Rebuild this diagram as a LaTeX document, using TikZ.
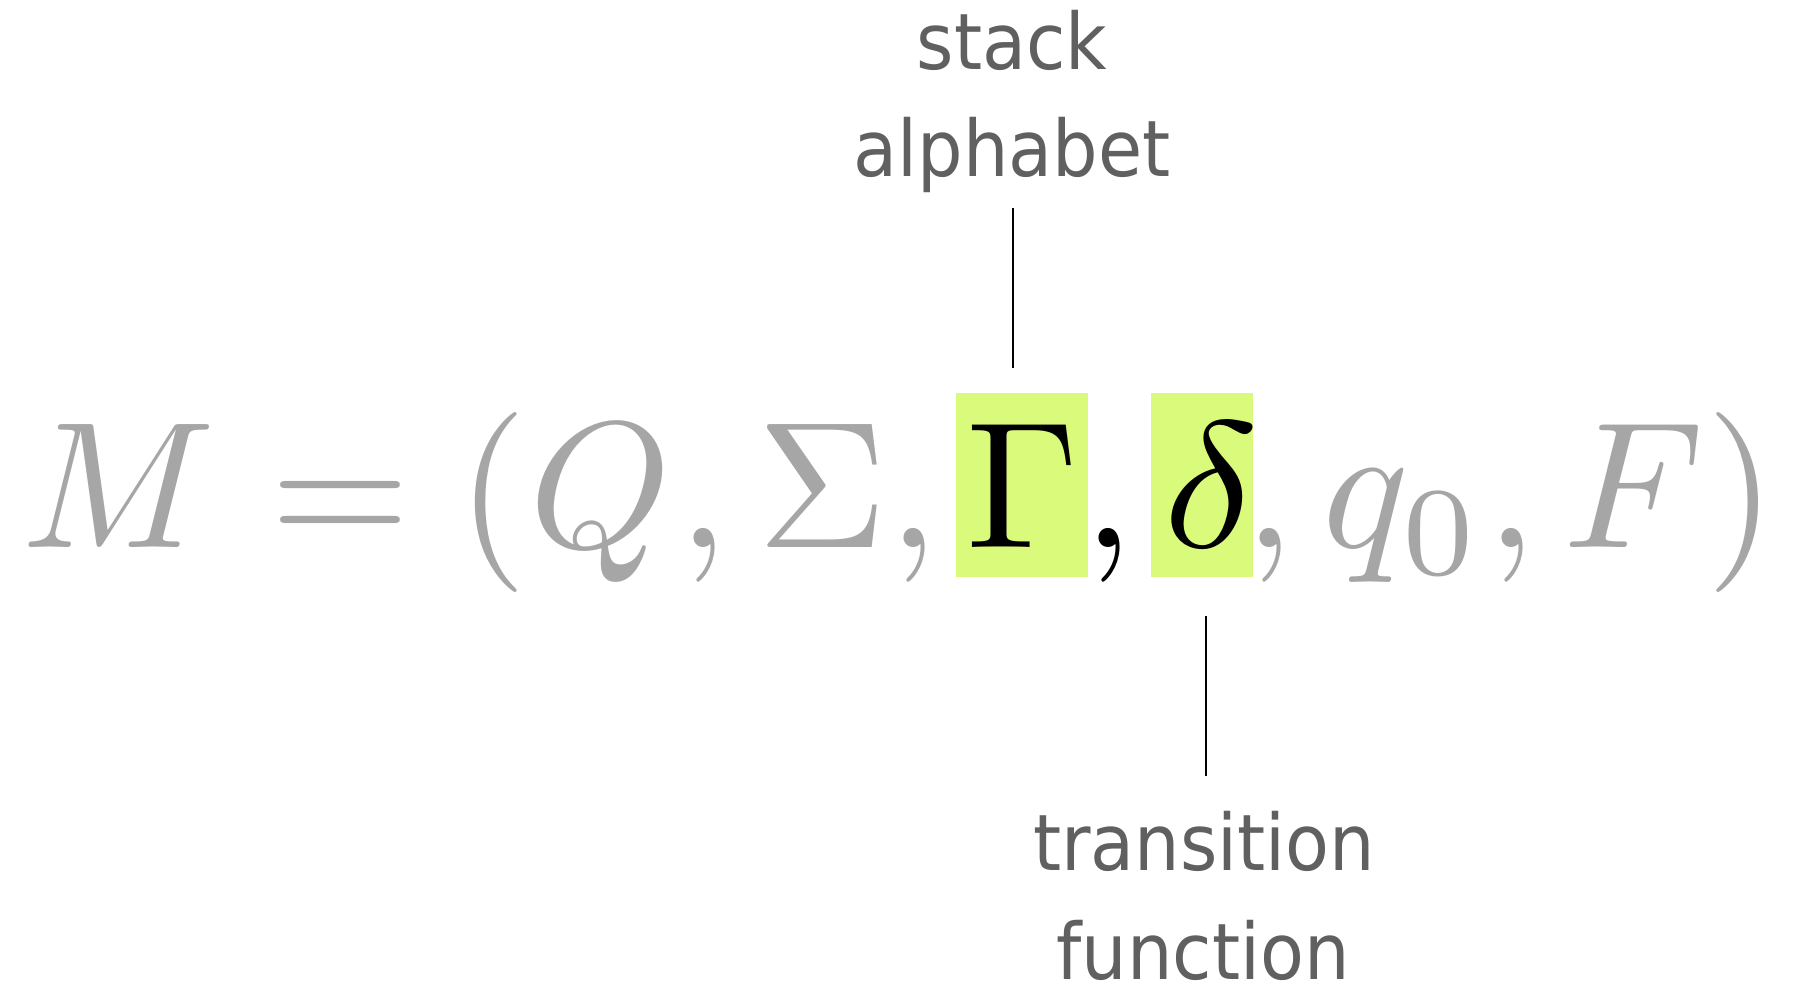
\documentclass[tikz,border=0pt]{standalone}
\DeclareFontShape{OT1}{cmr}{m}{n}{<-150>cmr7 <150->cmr10}{}
\DeclareFontShape{OML}{cmm}{m}{it}{<-150>cmmi7 <150->cmmi10}{}
\DeclareFontShape{OMS}{cmsy}{m}{n}{<-150>cmsy7 <150->cmsy10}{}
\DeclareFontShape{OMX}{cmex}{m}{n}{<->cmex10}{}
\usepackage{fontspec}
\newfontfamily\lblfont{DejaVu Sans}[FakeStretch=0.92]
\usetikzlibrary{backgrounds,calc}
\definecolor{hlgreen}{RGB}{217,250,122}
\definecolor{mathgray}{RGB}{166,166,166}
\definecolor{lblgray}{RGB}{96,96,96}
\begin{document}
\begin{tikzpicture}[x=1pt,y=-1pt,
  gm/.style={anchor=base west,inner sep=0pt,text=mathgray,font=\fontsize{180}{200}\selectfont},
  bm/.style={gm,text=black},
  lbl/.style={anchor=base,inner sep=0pt,text=lblgray,font=\lblfont\fontsize{78}{94}\selectfont},
  hl/.style={fill=hlgreen,draw=none,inner sep=0pt,anchor=south west},
  lead/.style={draw=black,line width=2.4pt}]
\useasboundingbox (0,0) rectangle (1794,987);
% formula
\node[gm] (m)   at (21,547)   {$M$};
\node[gm] (eq)  at (270,547)  {$=$};
\node[gm] (lp)  at (457,547)  {$($};
\node[gm] (q)   at (529,547)  {$Q$};
\node[gm] (c1)  at (678,547)  {$,$};
\node[gm] (sig) at (757,547)  {$\Sigma$};
\node[gm] (c2)  at (888,547)  {$,$};
\node[bm] (gam) at (966,547)  {$\Gamma$};
\node[bm] (c3)  at (1083,547) {$,$};
\node[bm,xscale=1.1] (del) at (1163,547) {$\delta$};
\node[gm] (c4)  at (1244,547) {$,$};
\node[gm] (qz)  at (1322,547) {$q_0$};
\node[gm] (c5)  at (1486,547) {$,$};
\node[gm] (f)   at (1563,547) {$F$};
\node[gm] (rp)  at (1706,547) {$)$};
% highlight boxes
\begin{scope}[on background layer]
\fill[white] (0,0) rectangle (1794,987);
\node[hl,minimum width=132pt,minimum height=184pt] (gbox) at (956,577) {};
\node[hl,minimum width=102pt,minimum height=184pt] (dbox) at (1151,577) {};
\end{scope}
% labels
\node[lbl] (s1) at (1012,70)  {stack};
\node[lbl] (s2) at (1012,177) {alphabet};
\node[lbl] (t1) at (1204,870) {transition};
\node[lbl] (t2) at (1203,979) {function};
% leader lines
\coordinate (up1) at (1013,208);
\coordinate (up2) at (1013,368);
\draw[lead] (up1) -- (up2);
\coordinate (dn1) at (1206,616);
\coordinate (dn2) at (1206,776);
\draw[lead] (dn1) -- (dn2);
\end{tikzpicture}
\end{document}
